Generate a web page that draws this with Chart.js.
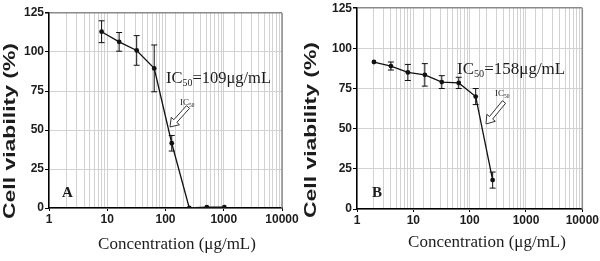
<!DOCTYPE html>
<html>
<head>
<meta charset="utf-8">
<script src="https://cdn.jsdelivr.net/npm/chart.js@4"></script>
<style>
  html, body { margin: 0; padding: 0; background: #fff; }
  .panel { position: absolute; top: 0; width: 300px; height: 261px; }
  #panelA { left: 0; }
  #panelB { left: 300px; }
</style>
</head>
<body>
<div class="panel" id="panelA"><canvas id="chartA"></canvas></div>
<div class="panel" id="panelB"><canvas id="chartB"></canvas></div>
<script>
// panel A
const concA = [8, 16, 32, 64, 128, 256, 512, 1024];
const viabilityA = [113, 106.5, 101, 89.5, 41.5, 0, 0.5, 0.5];
const errorA = [7, 6, 9.5, 15, 5, 0, 0, 0];

// panel B
const concB = [2, 4, 8, 16, 32, 64, 128, 256];
const viabilityB = [91.5, 89, 85, 83.5, 79, 78.5, 70, 18];
const errorB = [0, 2.5, 5, 7, 4, 3.5, 5, 5];

const xLabels = ['1', '10', '100', '1000', '10000'];
const yTickStep = 25;
const yMax = 125;
const ic50Values = ['109μg/mL', '158μg/mL'];
const panelNames = ['A', 'B'];

const yTitle = 'Cell viability (%)';
const xTitle = 'Concentration (μg/mL)';
const INK = '#1c1c1c';

function isDecade(v) {
  const l = Math.log10(v);
  return Math.abs(l - Math.round(l)) < 1e-9;
}

// hollow block arrow from tail to tip
function hollowArrow(ctx, tail, tip) {
  const dx = tip[0] - tail[0], dy = tip[1] - tail[1];
  const len = Math.hypot(dx, dy);
  const ux = dx / len, uy = dy / len, nx = -uy, ny = ux;
  const shaft = 2, head = 5.5, headLen = 8;
  const p = (a, b) => [tail[0] + ux * a + nx * b, tail[1] + uy * a + ny * b];
  const pts = [p(0, shaft), p(len - headLen, shaft), p(len - headLen, head), p(len, 0),
               p(len - headLen, -head), p(len - headLen, -shaft), p(0, -shaft)];
  ctx.beginPath();
  pts.forEach((q, i) => i ? ctx.lineTo(q[0], q[1]) : ctx.moveTo(q[0], q[1]));
  ctx.closePath();
  ctx.fillStyle = '#fff';
  ctx.fill();
  ctx.strokeStyle = '#333';
  ctx.lineWidth = 1;
  ctx.stroke();
}

// text with a subscript part: IC + 50 + rest
function subText(ctx, x, y, size, main, sub, rest) {
  ctx.textAlign = 'left';
  ctx.textBaseline = 'alphabetic';
  ctx.font = size + 'px "Liberation Serif"';
  ctx.fillText(main, x, y);
  x += ctx.measureText(main).width;
  ctx.font = (size * 0.6) + 'px "Liberation Serif"';
  ctx.fillText(sub, x, y + size * 0.2);
  x += ctx.measureText(sub).width;
  if (rest) {
    ctx.font = size + 'px "Liberation Serif"';
    ctx.fillText(rest, x, y);
  }
}

const decorPlugin = {
  id: 'decor',
  beforeDatasetsDraw(chart, args, o) {
    const ctx = chart.ctx, xs = chart.scales.x, ys = chart.scales.y;
    const area = chart.chartArea;
    ctx.save();
    // gray right border
    ctx.strokeStyle = '#8a8a8a';
    ctx.lineWidth = 1.5;
    ctx.beginPath();
    ctx.moveTo(area.right, area.top);
    ctx.lineTo(area.right, area.bottom);
    ctx.stroke();
    // error bars
    ctx.strokeStyle = '#111';
    ctx.lineWidth = 1;
    o.x.forEach((c, i) => {
      const e = o.err[i];
      if (!e) return;
      const px = xs.getPixelForValue(c);
      const top = ys.getPixelForValue(o.y[i] + e);
      const bot = ys.getPixelForValue(o.y[i] - e);
      ctx.beginPath();
      ctx.moveTo(px, top); ctx.lineTo(px, bot);
      ctx.moveTo(px - 3, top); ctx.lineTo(px + 3, top);
      ctx.moveTo(px - 3, bot); ctx.lineTo(px + 3, bot);
      ctx.stroke();
    });
    ctx.restore();
  },
  afterDraw(chart, args, o) {
    const ctx = chart.ctx;
    ctx.save();
    ctx.fillStyle = INK;
    // y title, stretched along its length
    ctx.save();
    ctx.translate(o.yTitle[0], o.yTitle[1]);
    ctx.rotate(-Math.PI / 2);
    ctx.font = 'bold 16px "Liberation Sans"';
    const w = ctx.measureText(yTitle).width;
    ctx.scale(176 / w, 1);
    ctx.textAlign = 'center';
    ctx.textBaseline = 'middle';
    ctx.fillText(yTitle, 0, 0);
    ctx.restore();
    // x title
    ctx.font = '17px "Liberation Serif"';
    ctx.textAlign = 'center';
    ctx.textBaseline = 'middle';
    ctx.fillText(xTitle, o.xTitle[0], o.xTitle[1]);
    // panel letter
    ctx.font = 'bold 15px "Liberation Serif"';
    ctx.textAlign = 'left';
    ctx.textBaseline = 'alphabetic';
    ctx.fillText(o.name, o.letter[0], o.letter[1]);
    // IC50 statement
    subText(ctx, o.ic[0], o.ic[1], o.icSize, 'IC', '50', '=' + o.icValue);
    // small label + arrow
    subText(ctx, o.small[0], o.small[1], 9, 'IC', '50', '');
    hollowArrow(ctx, o.tail, o.tip);
    ctx.restore();
  }
};

function makeChart(id, conc, vals, errs, geom) {
  return new Chart(document.getElementById(id), {
    type: 'line',
    data: {
      datasets: [{
        data: conc.map((c, i) => ({ x: c, y: vals[i] })),
        borderColor: '#111',
        borderWidth: 1.3,
        backgroundColor: '#111',
        pointRadius: 2.4,
        pointBorderWidth: 0,
        tension: 0
      }]
    },
    options: {
      responsive: true,
      maintainAspectRatio: false,
      animation: false,
      layout: { padding: { left: 0, top: geom.top, right: geom.right, bottom: 0 } },
      plugins: {
        legend: { display: false },
        tooltip: { enabled: false },
        decor: Object.assign({ x: conc, y: vals, err: errs }, geom.decor)
      },
      scales: {
        x: {
          type: 'logarithmic',
          min: 1,
          max: 10000,
          afterFit: s => { s.height = geom.xHeight; },
          border: { color: '#000', width: 1.5 },
          grid: {
            color: '#d2d2d2',
            lineWidth: 1,
            tickLength: 3,
            tickColor: c => (c.tick && isDecade(c.tick.value)) ? '#000' : 'rgba(0,0,0,0)'
          },
          ticks: {
            autoSkip: false,
            maxRotation: 0,
            padding: 1,
            color: INK,
            font: { family: '"Liberation Sans"', size: 12, weight: 'bold' },
            callback: v => isDecade(v) ? xLabels[Math.round(Math.log10(v))] : ''
          }
        },
        y: {
          min: 0,
          max: yMax,
          afterFit: s => { s.width = geom.yWidth; },
          border: { color: '#000', width: 1.5 },
          grid: {
            color: c => (c.tick && c.tick.value === yMax) ? '#8a8a8a' : '#d2d2d2',
            lineWidth: c => (c.tick && c.tick.value === yMax) ? 1.5 : 1,
            tickLength: 4,
            tickColor: '#000'
          },
          ticks: {
            stepSize: yTickStep,
            padding: 1,
            color: INK,
            font: { family: '"Liberation Sans"', size: 12, weight: 'bold' }
          }
        }
      }
    },
    plugins: [decorPlugin]
  });
}

makeChart('chartA', concA, viabilityA, errorA, {
  top: 13, right: 18, xHeight: 53, yWidth: 49,
  decor: {
    name: panelNames[0], icValue: ic50Values[0], icSize: 16.5,
    yTitle: [10.5, 131], xTitle: [177, 245], letter: [62, 197],
    ic: [166, 83], small: [180, 105], tail: [188, 107], tip: [170, 127]
  }
});

makeChart('chartB', concB, viabilityB, errorB, {
  top: 7, right: 15, xHeight: 52, yWidth: 57,
  decor: {
    name: panelNames[1], icValue: ic50Values[1], icSize: 17,
    yTitle: [12, 130], xTitle: [187, 243], letter: [72, 197],
    ic: [157, 74], small: [195, 96], tail: [204, 102], tip: [186, 124]
  }
});
</script>
</body>
</html>
